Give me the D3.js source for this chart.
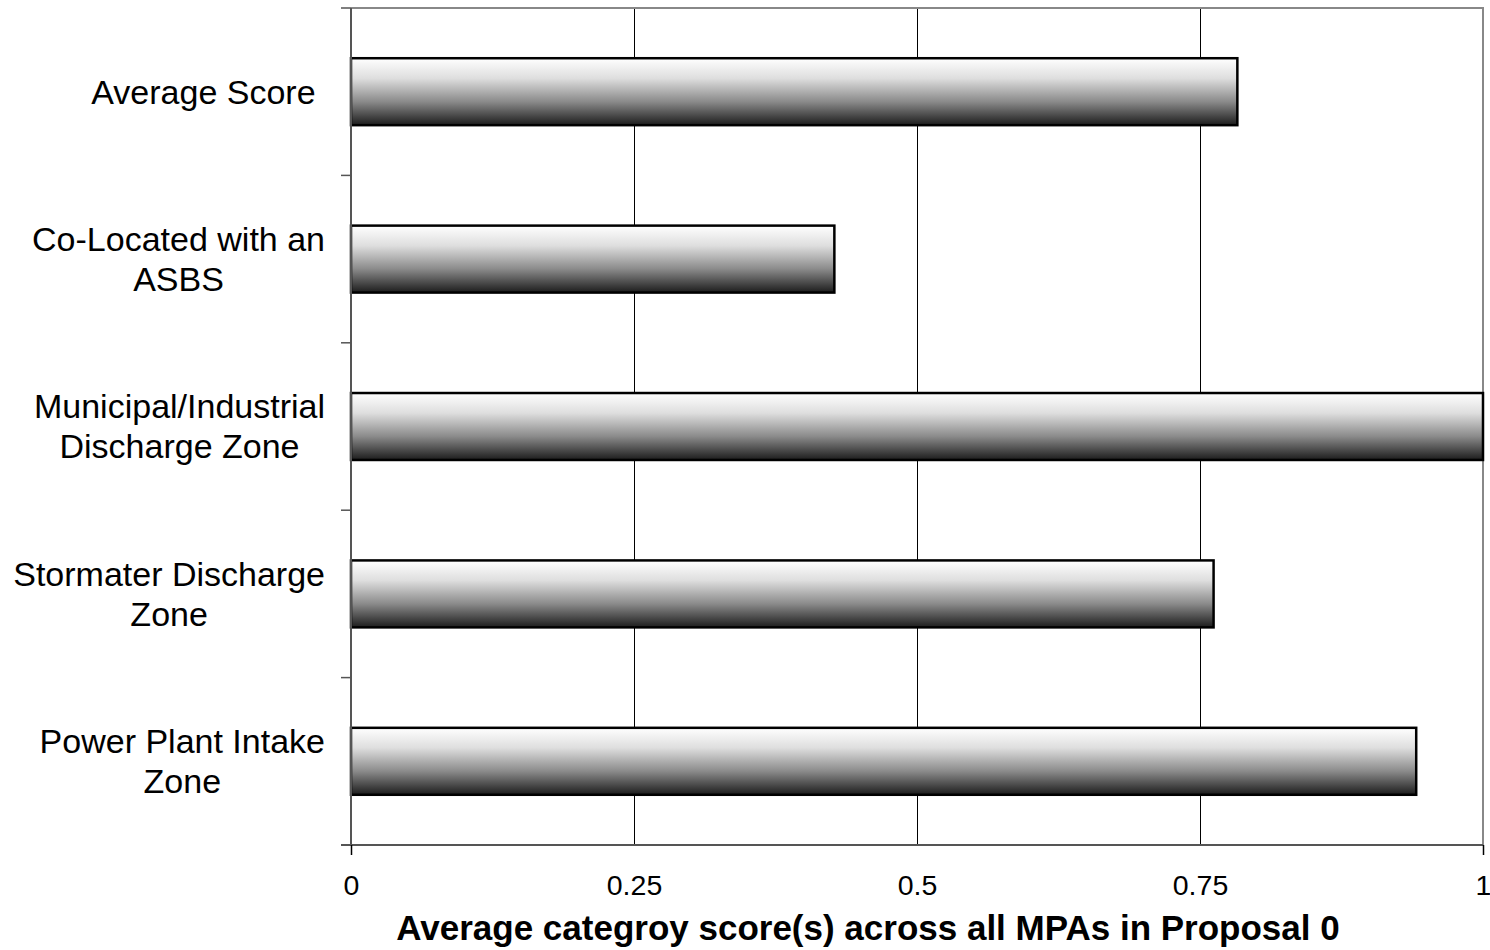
<!DOCTYPE html>
<html><head><meta charset="utf-8">
<script src="https://cdn.jsdelivr.net/npm/d3@7"></script>
<style>body{margin:0;background:#fff}svg{display:block}text{font-family:"Liberation Sans",Arial,sans-serif;white-space:pre}</style>
</head><body><svg id="c" width="1490" height="950"></svg>
<script>
const categories = ["Average Score ", "Co-Located with an|ASBS", "Municipal/Industrial|Discharge Zone", "Stormater Discharge|Zone", "Power Plant Intake|Zone"];
const values = [0.783, 0.427, 1.0, 0.762, 0.941];
const tickValues = [0, 0.25, 0.5, 0.75, 1];
const tickLabels = ["0", "0.25", "0.5", "0.75", "1"];
const xTitle = "Average categroy score(s) across all MPAs in Proposal 0";

const svg = d3.select("#c");
const L = 351, R = 1483, T = 8, B = 845;
const x = d3.scaleLinear().domain([0, 1]).range([L, R]);
const y = d3.scaleBand().domain(categories).range([T, B]).paddingInner(0.6).paddingOuter(0.3);

const defs = svg.append("defs");
const g = defs.append("linearGradient").attr("id", "bg").attr("x1", 0).attr("y1", 0).attr("x2", 0).attr("y2", 1);
[[0, "#ffffff"], [0.3, "#dedede"], [0.65, "#8a8a8a"], [1, "#1c1c1c"]].forEach(([o, c]) => g.append("stop").attr("offset", o).attr("stop-color", c));

// grid
svg.append("g").selectAll("line").data(tickValues.slice(1, -1)).join("line")
  .attr("x1", d => x(d)).attr("x2", d => x(d)).attr("y1", T).attr("y2", B)
  .attr("stroke", "#000").attr("stroke-width", 1).attr("shape-rendering", "crispEdges");

// plot border top/right
svg.append("path").attr("d", `M${L},${T}H${R}V${B}`).attr("fill", "none").attr("stroke", "#888").attr("stroke-width", 2);

// bars
svg.append("g").selectAll("rect").data(categories).join("rect")
  .attr("x", x(0)).attr("y", d => y(d)).attr("width", (d, i) => x(values[i]) - x(0)).attr("height", y.bandwidth())
  .attr("fill", "url(#bg)").attr("stroke", "#000").attr("stroke-width", 2.5);

// left axis
const yEdges = d3.range(categories.length + 1).map(i => T + (B - T) * i / categories.length);
svg.append("line").attr("x1", L).attr("x2", L).attr("y1", T).attr("y2", B).attr("stroke", "#555").attr("stroke-width", 2);
svg.append("g").selectAll("line").data(yEdges).join("line")
  .attr("x1", L - 10).attr("x2", L).attr("y1", d => d).attr("y2", d => d)
  .attr("stroke", "#555").attr("stroke-width", 1.5);

// bottom axis
const xAxis = d3.axisBottom(x).tickValues(tickValues).tickFormat((d, i) => tickLabels[i]).tickSize(10).tickPadding(20);
const ax = svg.append("g").attr("transform", `translate(0,${B})`).call(xAxis);
ax.select(".domain").attr("stroke", "#555").attr("stroke-width", 2).attr("d", `M${L - 10},0H${R}`);
ax.selectAll(".tick line").attr("stroke", "#000").attr("stroke-width", 1.5)
  .attr("opacity", d => (d === 0 || d === 1) ? 1 : 0);
ax.selectAll(".tick text").attr("font-size", 28.5).attr("fill", "#000").attr("font-family", '"Liberation Sans",Arial,sans-serif');

// category labels
const lab = svg.append("g");
categories.forEach((c, i) => {
  const lines = c.split("|");
  const cy = y(c) + y.bandwidth() / 2;
  const lh = 40;
  const t = lab.append("g");
  const texts = lines.map((ln, j) => t.append("text").text(ln)
    .attr("y", cy + (j - (lines.length - 1) / 2) * lh).attr("dy", "0.35em")
    .attr("font-size", 34).attr("fill", "#000"));
  const w = d3.max(texts, n => n.node().getComputedTextLength());
  const right = 325;
  texts.forEach(n => {
    if (lines.length === 1) n.attr("x", right).attr("text-anchor", "end");
    else n.attr("x", right - w / 2).attr("text-anchor", "middle");
  });
});

svg.append("text").text(xTitle).attr("x", 868).attr("y", 940).attr("text-anchor", "middle")
  .attr("font-size", 35).attr("font-weight", "bold").attr("fill", "#000");
</script></body></html>
